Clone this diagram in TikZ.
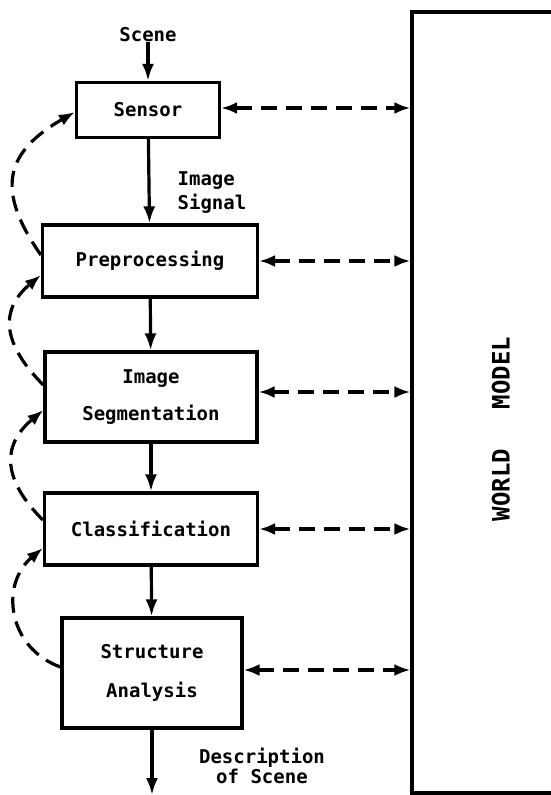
\documentclass[tikz,border=0pt]{standalone}
\usepackage{fontspec}
\setmainfont{DejaVu Sans Mono}
\usetikzlibrary{shapes,arrows.meta,positioning,calc}

\tikzset{
  txt/.style={font=\fontsize{19}{23}\selectfont\bfseries, inner sep=0pt, align=center},
  block/.style={txt, draw, line width=3.2pt},
  mainflow/.style={line width=3.2pt, -{Latex[length=17pt,width=12pt]}},
  feedback/.style={line width=3.2pt, dash pattern=on 16pt off 9pt, -{Latex[length=16pt,width=12pt]}},
  modellink/.style={line width=3.2pt, dash pattern=on 16pt off 9pt, {Latex[length=16pt,width=12pt]}-{Latex[length=16pt,width=12pt]}}
}

\begin{document}
\begin{tikzpicture}[x=1pt,y=-1pt]
  \useasboundingbox (0,0) rectangle (551,795);

  % processing chain
  \node[txt] (scene) at (148,35) {Scene};
  \node[block, minimum width=143pt, minimum height=55pt] (sensor) at (148,110) {Sensor};
  \node[block, minimum width=215pt, minimum height=72pt] (prep) at (150,261) {Preprocessing};
  \node[block, minimum width=212pt, minimum height=90pt] (seg) at (151,397) {Image\\[14pt]Segmentation};
  \node[block, minimum width=213pt, minimum height=72pt] (cls) at (151,529) {Classification};
  \node[block, minimum width=180pt, minimum height=110pt] (struct) at (152,673) {Structure\\[16pt]Analysis};
  \coordinate (out) at (152,795);

  \node[txt, align=left] (signal) at (212,193) {Image\\[1pt]Signal};
  \node[txt] (descr) at (262,766) {Description\\[-3pt]of Scene};

  % world model
  \node[draw, line width=3.2pt, minimum width=176pt, minimum height=781pt] (world) at (500,402.5) {};
  \node[rotate=90, font=\fontsize{24}{28}\selectfont\bfseries, inner sep=0pt] (worldtxt) at (501,429) {WORLD\hspace{40pt}MODEL};

  \draw[mainflow] (scene) -- (sensor);
  \draw[mainflow] (sensor) -- (prep);
  \draw[mainflow] (prep) -- (seg);
  \draw[mainflow] (seg) -- (cls);
  \draw[mainflow] (cls) -- (struct);
  \draw[mainflow] (struct) -- (out);

  % links to the world model
  \draw[modellink] ([yshift=2pt]sensor.east) -- ([yshift=2pt]sensor.east -| world.west);
  \draw[modellink] (prep.east) -- (prep.east -| world.west);
  \draw[modellink] ([yshift=5pt]seg.east) -- ([yshift=5pt]seg.east -| world.west);
  \draw[modellink] (cls.east) -- (cls.east -| world.west);
  \draw[modellink] ([yshift=3pt]struct.east) -- ([yshift=3pt]struct.east -| world.west);

  % feedback loops
  \draw[feedback] ([yshift=6pt]prep.west) to[out=125,in=210,looseness=1.4] ([yshift=-2pt]sensor.west);
  \draw[feedback] ([yshift=12pt]seg.west) to[out=135,in=220,looseness=1.3] ([yshift=-14pt]prep.west);
  \draw[feedback] ([yshift=9pt]cls.west) to[out=135,in=220,looseness=1.3] ([yshift=-13pt]seg.west);
  \draw[feedback] ([yshift=6pt]struct.west) to[out=160,in=220,looseness=1.2] ([yshift=-19pt]cls.west);
\end{tikzpicture}
\end{document}
